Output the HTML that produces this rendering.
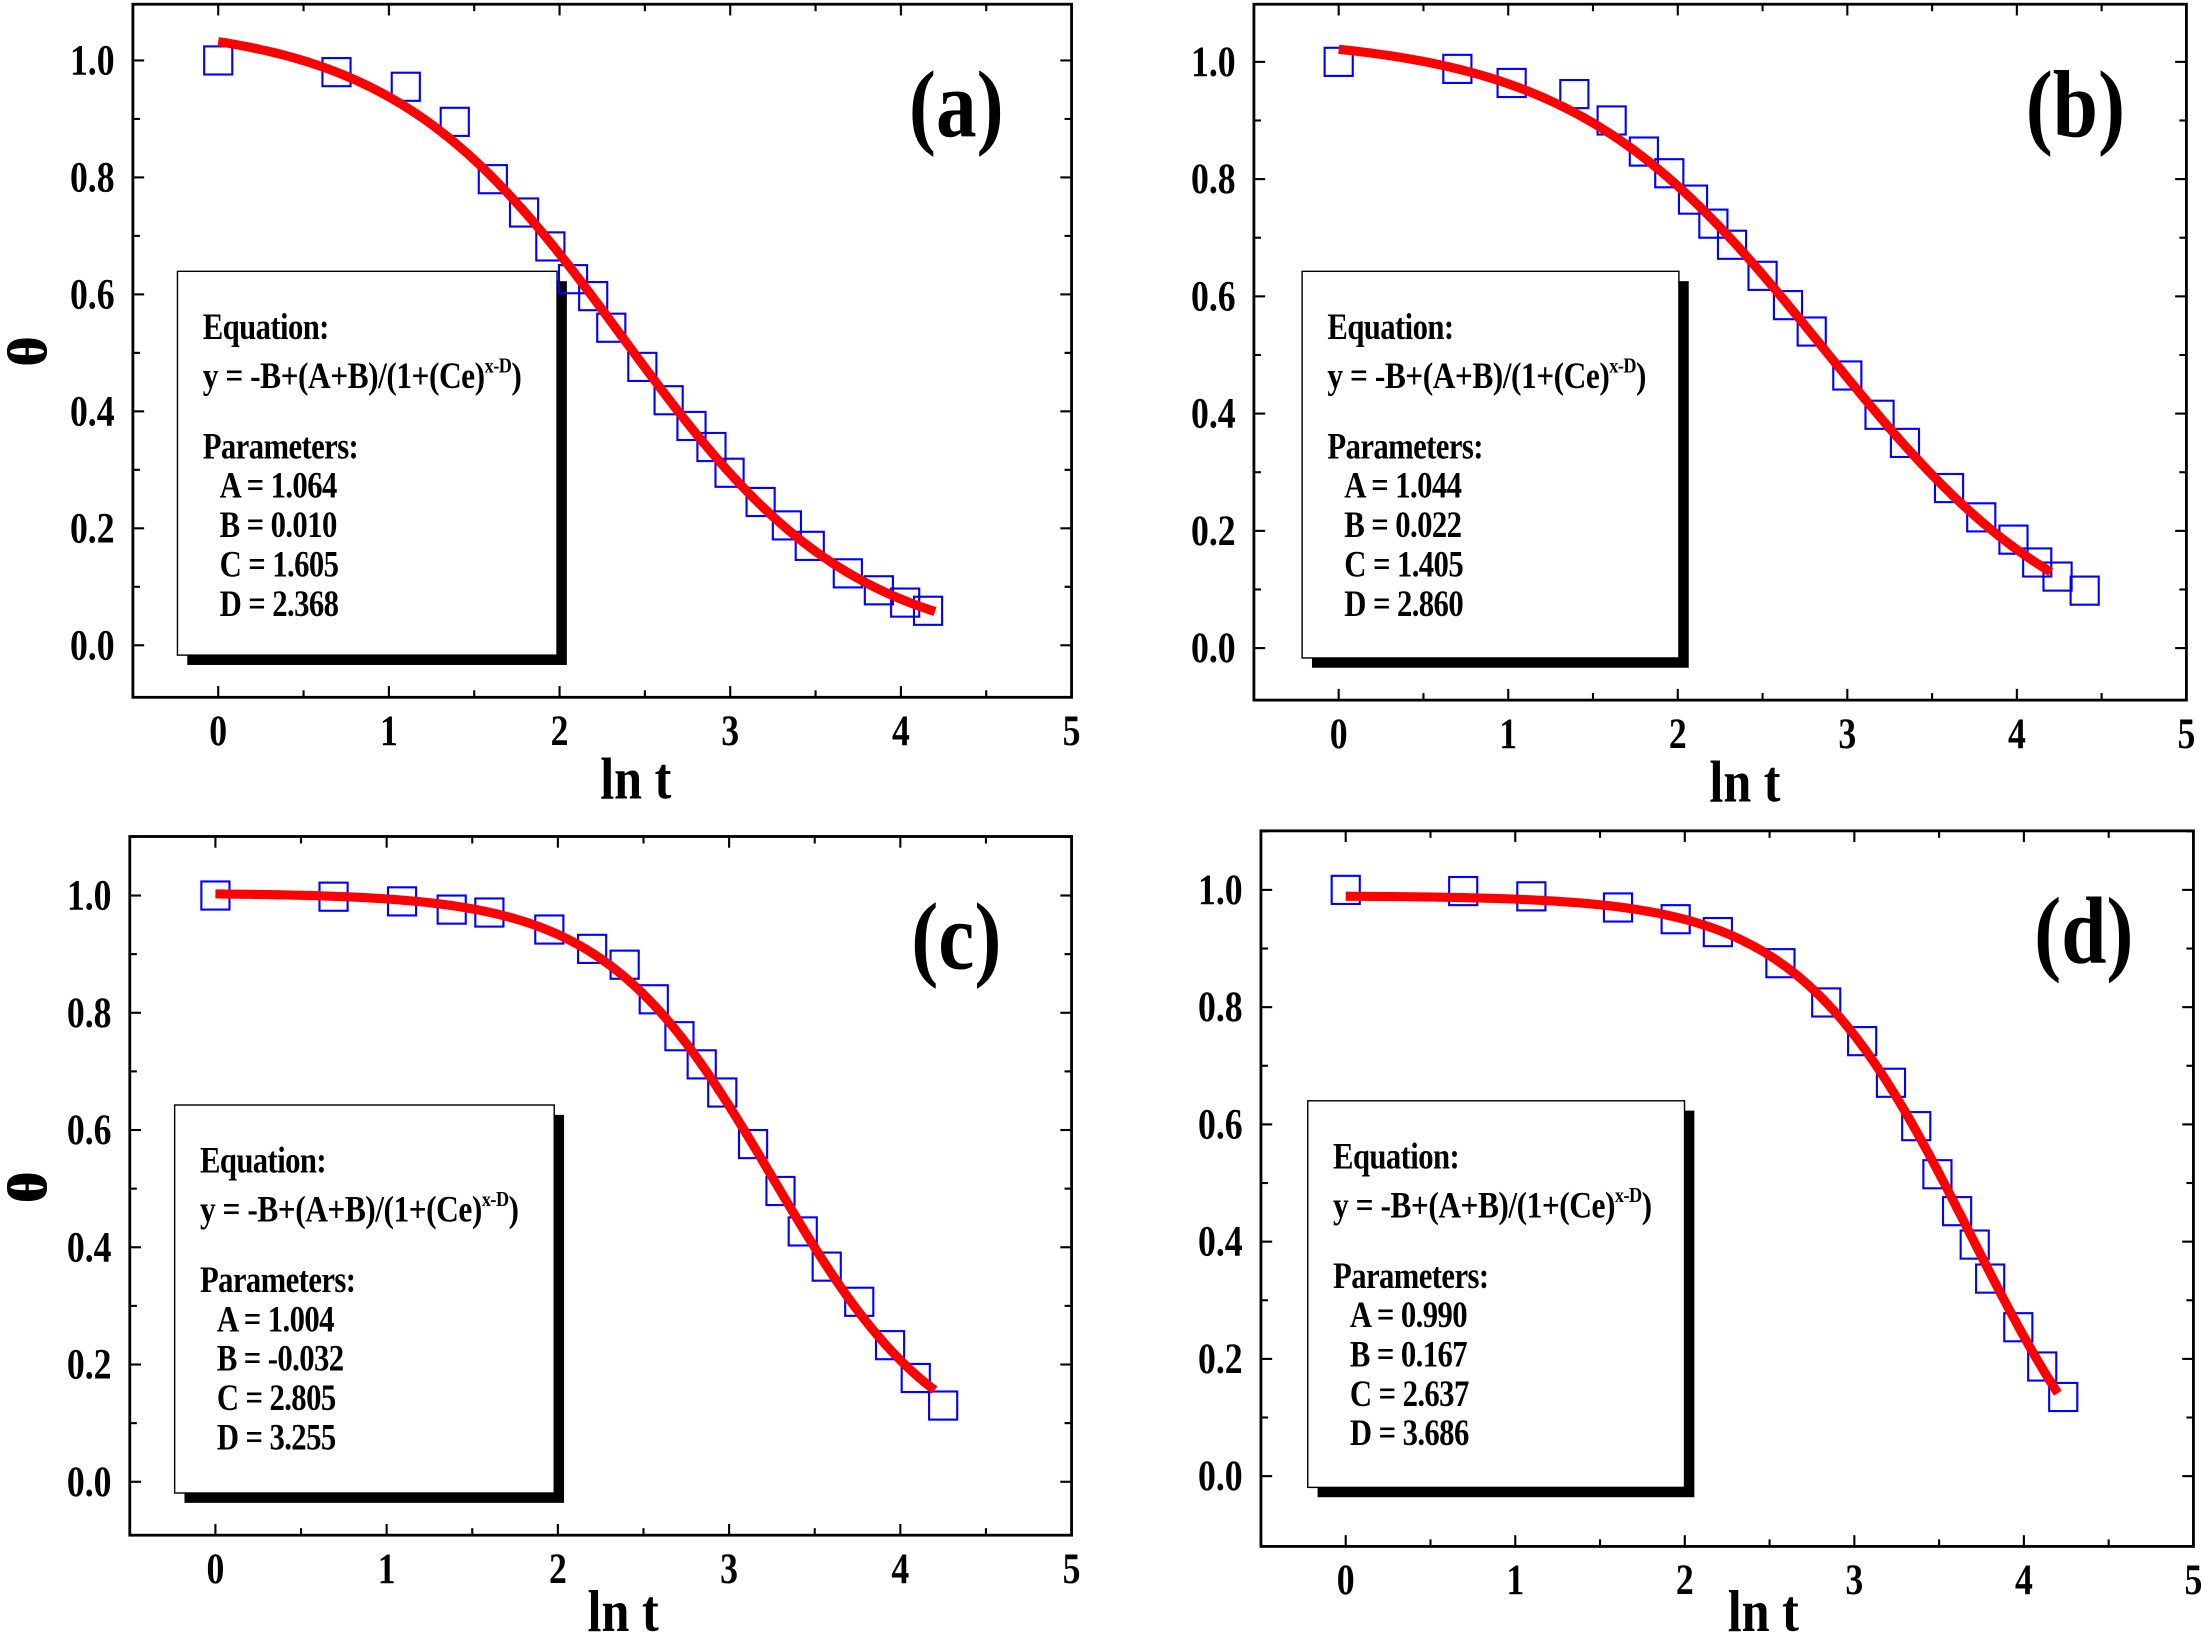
<!DOCTYPE html>
<html><head><meta charset="utf-8"><style>
html,body{margin:0;padding:0;background:#fff;}
svg{display:block;}
text{font-family:"Liberation Serif",serif;font-weight:bold;fill:#000;}
</style></head>
<body>
<svg id="fig" width="2205" height="1635" viewBox="0 0 1568 1163" xmlns="http://www.w3.org/2000/svg"></svg>
<script>
// Panel (a)
const aX = [0,0.693,1.099,1.386,1.609,1.792,1.946,2.079,2.197,2.303,2.485,2.639,2.773,2.890,2.996,3.178,3.332,3.466,3.689,3.871,4.025,4.159];
const aY = [1.0,0.98,0.955,0.895,0.797,0.74,0.682,0.626,0.597,0.543,0.476,0.419,0.375,0.339,0.295,0.245,0.205,0.17,0.123,0.094,0.073,0.059];
const aParams = [1.064,0.010,1.605,2.368];
const aParamLabels = ["1.064","0.010","1.605","2.368"];
// Panel (b)
const bX = [0,0.70,1.02,1.39,1.61,1.80,1.95,2.09,2.21,2.32,2.50,2.65,2.79,3.0,3.19,3.34,3.6,3.79,3.98,4.12,4.24,4.4];
const bY = [1.0,0.988,0.964,0.945,0.9,0.847,0.81,0.765,0.724,0.688,0.635,0.585,0.54,0.465,0.398,0.35,0.273,0.223,0.185,0.146,0.122,0.098];
const bParams = [1.044,0.022,1.405,2.860];
const bParamLabels = ["1.044","0.022","1.405","2.860"];
// Panel (c)
const cX = [0,0.69,1.09,1.38,1.6,1.95,2.2,2.39,2.56,2.71,2.84,2.96,3.14,3.3,3.43,3.57,3.76,3.94,4.09,4.25];
const cY = [1.0,0.998,0.99,0.976,0.971,0.942,0.909,0.882,0.823,0.76,0.712,0.664,0.576,0.496,0.427,0.367,0.307,0.233,0.177,0.13];
const cParams = [1.004,-0.032,2.805,3.255];
const cParamLabels = ["1.004","-0.032","2.805","3.255"];
// Panel (d)
const dX = [0,0.693,1.095,1.606,1.946,2.195,2.564,2.834,3.046,3.216,3.365,3.49,3.606,3.71,3.801,3.967,4.108,4.232];
const dY = [1.0,0.998,0.989,0.97,0.95,0.928,0.875,0.808,0.742,0.671,0.597,0.515,0.452,0.395,0.337,0.254,0.187,0.135];
const dParams = [0.990,0.167,2.637,3.686];
const dParamLabels = ["0.990","0.167","2.637","3.686"];

const xTicks = [0,1,2,3,4,5];
const xTickLabels = ["0","1","2","3","4","5"];
const yTicks = [0,0.2,0.4,0.6,0.8,1.0];
const yTickLabels = ["0.0","0.2","0.4","0.6","0.8","1.0"];
const paramNames = ["A","B","C","D"];

const NS="http://www.w3.org/2000/svg";
const svg=document.getElementById('fig');
function mk(tag,attrs,parent){const e=document.createElementNS(NS,tag);for(const k in attrs)e.setAttribute(k,attrs[k]);(parent||svg).appendChild(e);return e;}
function txt(parent,x,y,size,sx,anchor,extra){
  const a={x:0,y:0,'font-size':size,'text-anchor':anchor||'start',transform:`translate(${x} ${y}) scale(${sx} 1)`};
  for(const k in (extra||{}))a[k]=extra[k];
  return mk('text',a,parent);
}

const layouts=[
 {id:'a',xs:aX,ys:aY,p:aParams,pl:aParamLabels,x0:155,x5:762,y0:459,y1:43,T:3,B:496,box:[126,193,396,466],lab:[680,75],tx:452},
 {id:'b',xs:bX,ys:bY,p:bParams,pl:bParamLabels,x0:952,x5:1555,y0:461,y1:44,T:3,B:498,box:[926,193,1194,468],lab:[1476,75],tx:1241},
 {id:'c',xs:cX,ys:cY,p:cParams,pl:cParamLabels,x0:153,x5:762,y0:1054,y1:637,T:595,B:1092,box:[124,786,394,1062],lab:[680,667],tx:443},
 {id:'d',xs:dX,ys:dY,p:dParams,pl:dParamLabels,x0:957,x5:1560,y0:1050,y1:633,T:591,B:1100,box:[930,783,1198,1058],lab:[1482,663],tx:1254}
];

layouts.forEach(L=>{
  const g=mk('g',{});
  
  
  const sx=v=>L.x0+(L.x5-L.x0)/5*v;
  const sy=v=>L.y0+(L.y1-L.y0)*v;
  const left=sx(-0.5), right=sx(5);
  for(let v=-0.5;v<=5.001;v+=0.5){
    const maj=Math.abs(v-Math.round(v))<1e-6; const len=maj?8:5; const X=sx(v);
    const t1=mk('line',{x1:X,y1:L.B,x2:X,y2:L.B-len,stroke:'#000','stroke-width':1.5},g);
    
    
    const t2=mk('line',{x1:X,y1:L.T,x2:X,y2:L.T+len,stroke:'#000','stroke-width':1.5},g);
    
    
  }
  for(let k=0;k<=11;k++){
    const v=k*0.1; const Y=sy(v); if(Y<L.T||Y>L.B)continue;
    const len=(k%2===0)?8:5;
    const t1=mk('line',{x1:left,y1:Y,x2:left+len,y2:Y,stroke:'#000','stroke-width':1.5},g);
    
    
    const t2=mk('line',{x1:right,y1:Y,x2:right-len,y2:Y,stroke:'#000','stroke-width':1.5},g);
    
    
  }
  xTicks.forEach((v,i)=>{
    const t=txt(g,sx(v),L.B+34,31,0.82,'middle');
    t.textContent=xTickLabels[i];
    
    
  });
  yTicks.forEach((v,i)=>{
    const t=txt(g,left-13,sy(v)+10,31,0.82,'end');
    t.textContent=yTickLabels[i];
    
    
  });
  const xt=txt(g,L.tx,Math.min(L.B+72,1160),42,0.85,'middle');
  xt.textContent='ln t';
  
  
  const yc=(L.T+L.B)/2;
  const yt=mk('text',{x:0,y:0,'font-size':40,'text-anchor':'middle',transform:`translate(33 ${yc}) rotate(-90)`},g);
  yt.textContent='θ';
  
  
  const [bl,bt,br,bb]=L.box;
  const sh=mk('rect',{x:bl+7,y:bt+7,width:br-bl,height:bb-bt,fill:'#000'},g);
  
  
  const bx=mk('rect',{x:bl,y:bt,width:br-bl,height:bb-bt,fill:'#fff',stroke:'#000','stroke-width':1},g);
  
  
  const tx=bl+18;
  const e1=txt(g,tx,bt+48,26,0.84,'start',{'letter-spacing':-0.5});
  e1.textContent='Equation:';
  
  
  const e2=txt(g,tx,bt+83,26,0.86,'start',{'letter-spacing':-0.4});
  
  
  const s1=mk('tspan',{},e2); s1.textContent='y = -B+(A+B)/(1+(Ce)';
  const s2=mk('tspan',{'font-size':15,dy:-11},e2); s2.textContent='x-D';
  const s3=mk('tspan',{dy:11},e2); s3.textContent=')';
  const e3=txt(g,tx,bt+133,26,0.84,'start',{'letter-spacing':-0.5});
  e3.textContent='Parameters:';
  
  
  paramNames.forEach((n,i)=>{
    const t=txt(g,tx+12,bt+161+28*i,26,0.84,'start',{'letter-spacing':-0.5});
    t.textContent=n+' = '+L.pl[i];
    
    
  });
  L.xs.forEach((v,i)=>{
    const s=20;
    const r=mk('rect',{x:sx(v)-s/2,y:sy(L.ys[i])-s/2,width:s,height:s,fill:'none',stroke:'#0000ff','stroke-width':1.5},g);
    
    
  });
  const [A,B,C,D]=L.p;
  let d='';
  for(let k=0;k<=200;k++){const x=4.2*k/200;const y=-B+(A+B)/(1+Math.pow(C*Math.E,x-D));d+=(k?'L':'M')+sx(x).toFixed(2)+','+sy(y).toFixed(2);}
  const path=mk('path',{d:d,fill:'none',stroke:'#ff0000','stroke-width':6.5},g);
  
  
  const fr=mk('rect',{x:left,y:L.T,width:right-left,height:L.B-L.T,fill:'none',stroke:'#000','stroke-width':2},g);
  
  
  const pl=txt(g,L.lab[0],L.lab[1]+22,68,0.85,'middle');
  pl.textContent='('+L.id+')';
  
  
});
</script>
</body></html>
